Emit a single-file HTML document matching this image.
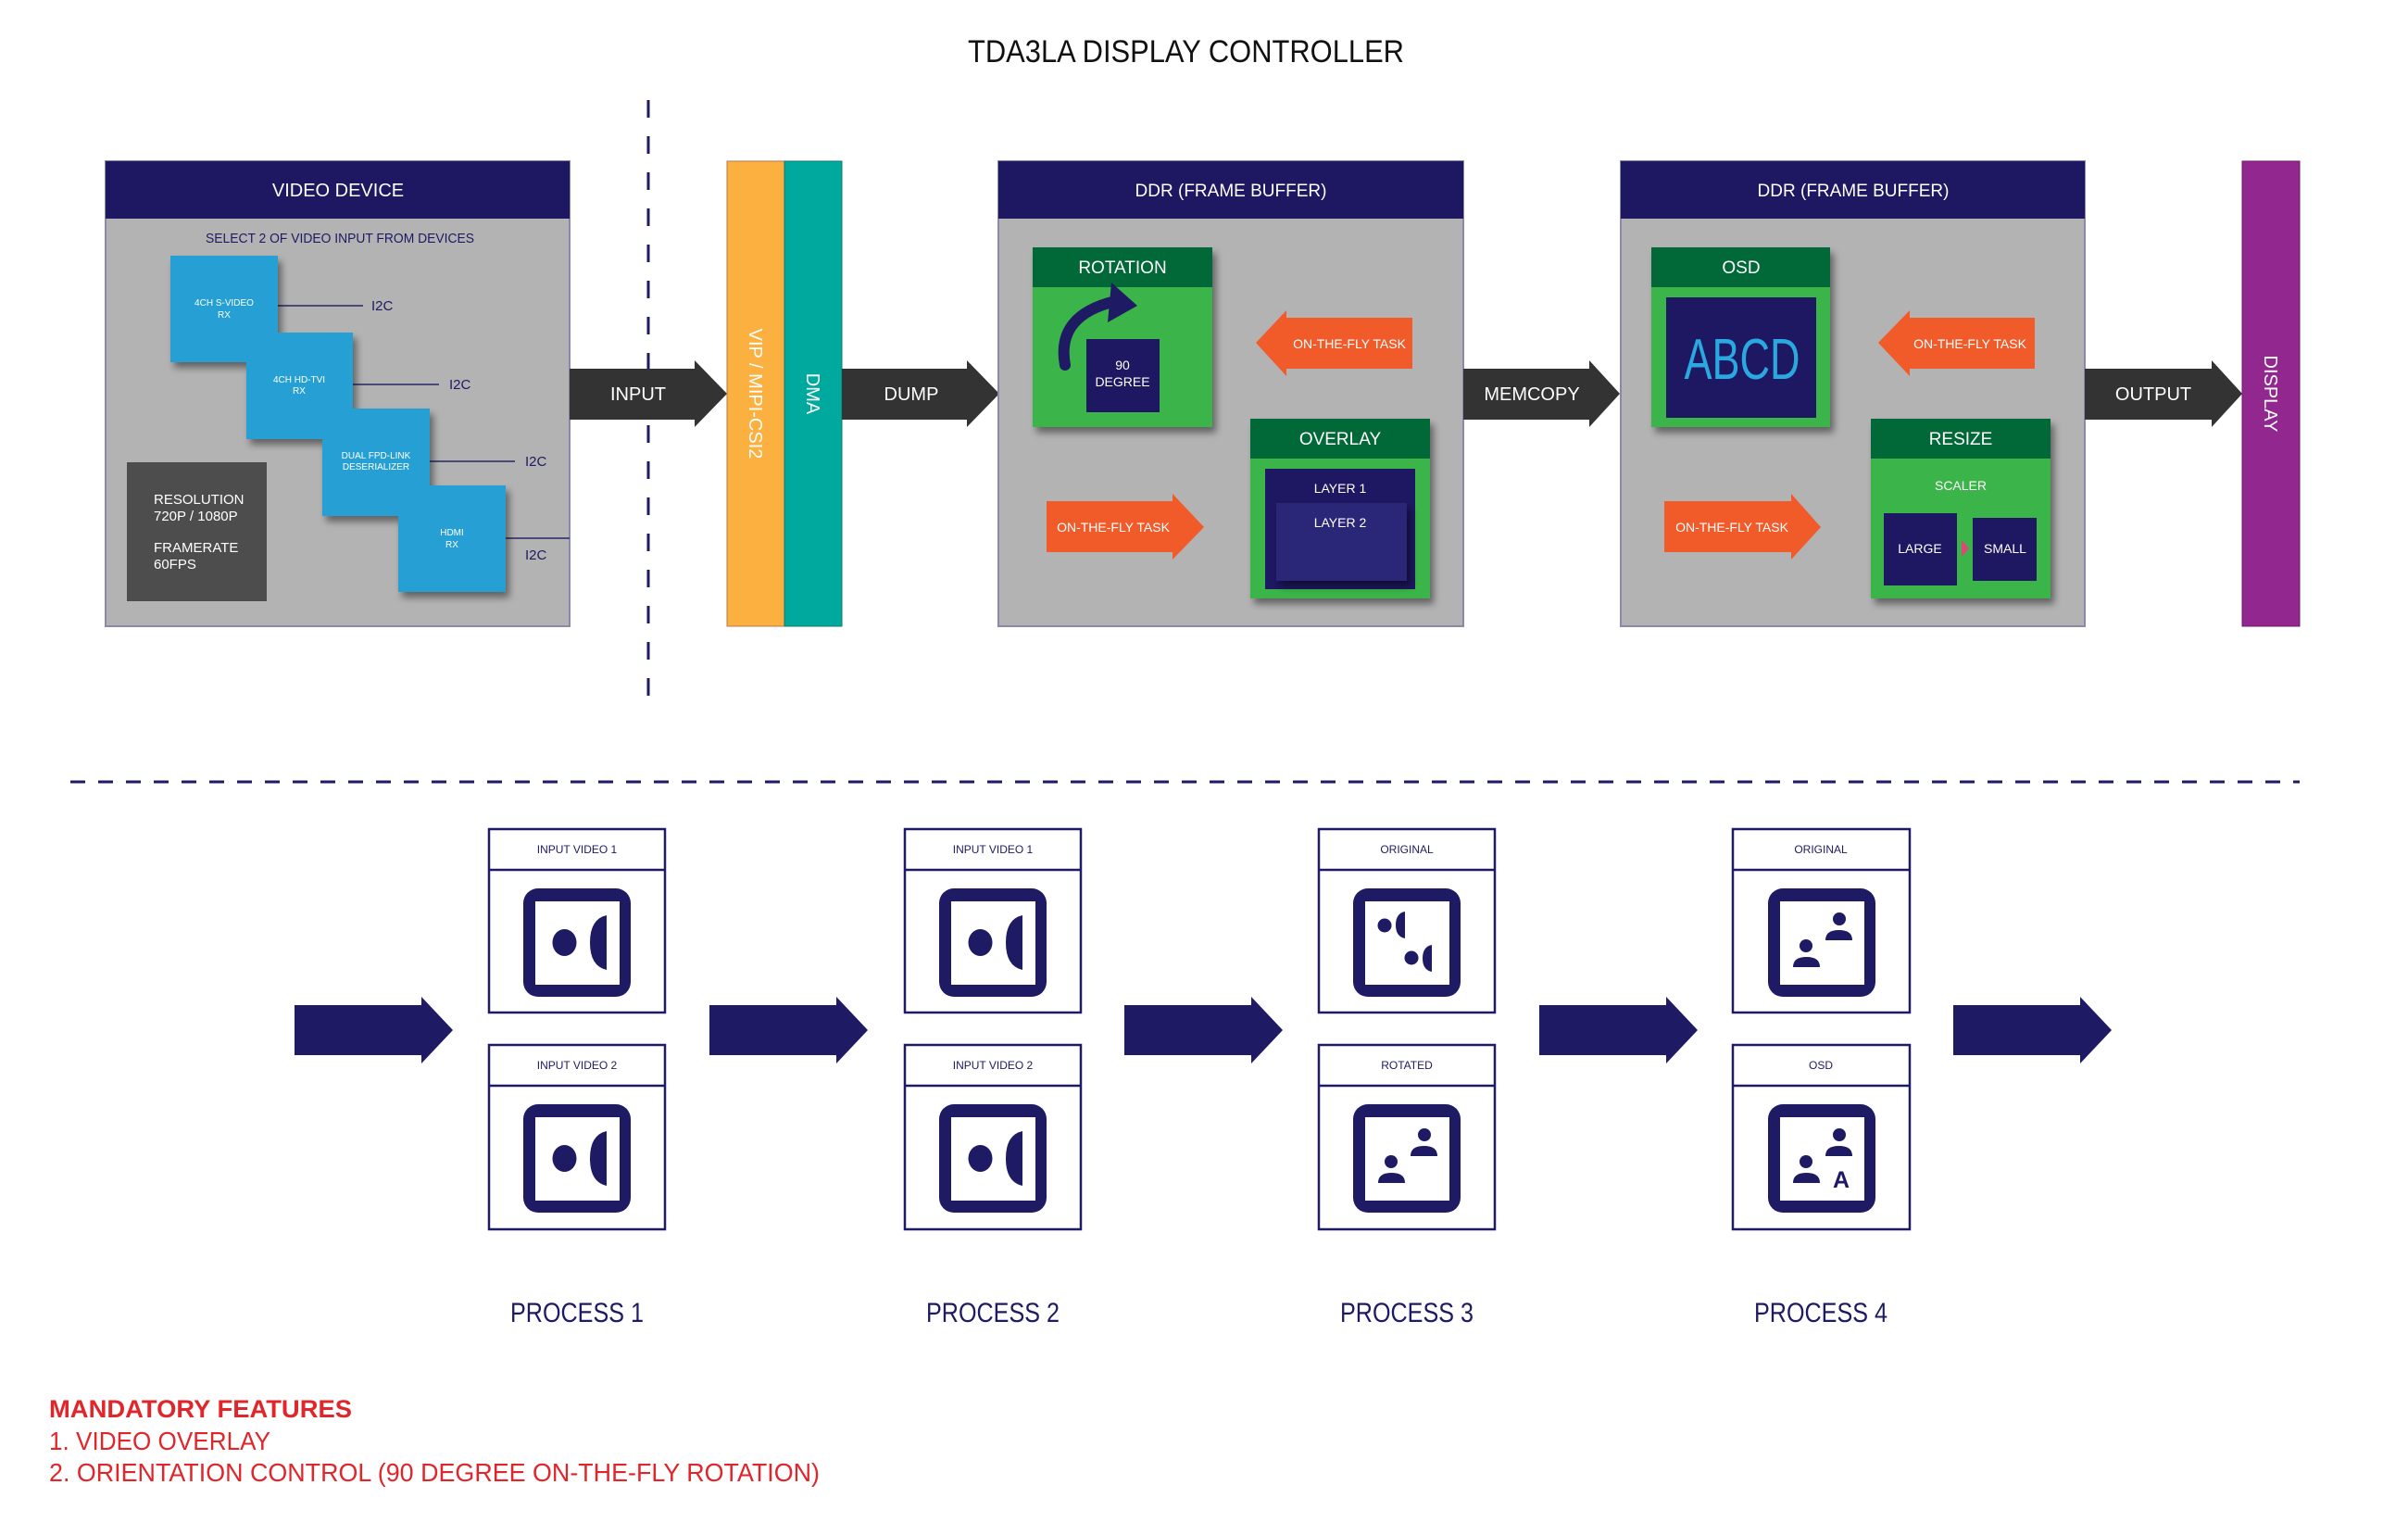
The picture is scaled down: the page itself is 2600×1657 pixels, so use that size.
<!DOCTYPE html>
<html><head><meta charset="utf-8"><style>
html,body{margin:0;padding:0;background:#fff;}
svg{display:block;font-family:"Liberation Sans",sans-serif;}
</style></head><body>
<svg width="2600" height="1657" viewBox="0 0 2600 1657" xmlns="http://www.w3.org/2000/svg">
<defs>
<filter id="sh" x="-20%" y="-20%" width="150%" height="150%"><feDropShadow dx="4" dy="6" stdDeviation="4" flood-color="#000" flood-opacity="0.45"/></filter>
<g id="frame">
 <rect x="0" y="0" width="116" height="117" rx="16" fill="#1e1a63"/>
 <rect x="13" y="14" width="91" height="90" fill="#fff"/>
</g>
<g id="icA">
 <use href="#frame"/>
 <ellipse cx="44.5" cy="58.5" rx="13" ry="14.5" fill="#1e1a63"/>
 <path d="M90 29 L90 88 Q72 84 72 58.5 Q72 33 90 29 Z" fill="#1e1a63"/>
</g>
<g id="icB">
 <use href="#frame"/>
 <ellipse cx="34" cy="40" rx="7.5" ry="7.5" fill="#1e1a63"/>
 <path d="M56 25 L56 54 Q46 52 46 39.5 Q46 27 56 25 Z" fill="#1e1a63"/>
 <ellipse cx="63" cy="75" rx="7.5" ry="7.5" fill="#1e1a63"/>
 <path d="M85 61 L85 90 Q75 88 75 75.5 Q75 63 85 61 Z" fill="#1e1a63"/>
</g>
<g id="persons">
 <circle cx="77" cy="33" r="7" fill="#1e1a63"/>
 <path d="M62 56 Q62 45 76.5 45 Q91 45 91 56 Z" fill="#1e1a63"/>
 <circle cx="41" cy="62" r="7" fill="#1e1a63"/>
 <path d="M27 85 Q27 74 41.5 74 Q56 74 56 85 Z" fill="#1e1a63"/>
</g>
<g id="icC"><use href="#frame"/><use href="#persons"/></g>
<g id="bigArrow"><polygon points="0,9 137,9 137,0 171,36 137,72 137,63 0,63" fill="#1e1a63"/></g>
</defs>

<text x="1045" y="67" font-size="34" fill="#111" textLength="471" lengthAdjust="spacingAndGlyphs">TDA3LA DISPLAY CONTROLLER</text>

<line x1="700" y1="108" x2="700" y2="762" stroke="#1e1a63" stroke-width="3" stroke-dasharray="19,20"/>
<line x1="76" y1="844" x2="2483" y2="844" stroke="#1e1a63" stroke-width="3" stroke-dasharray="16,14"/>

<!-- VIDEO DEVICE -->
<rect x="114" y="174" width="501" height="502" fill="#b3b3b3" stroke="#8a8aa8" stroke-width="2"/>
<rect x="114" y="174" width="501" height="62" fill="#1e1762"/>
<text x="365" y="212" font-size="20" fill="#fff" text-anchor="middle">VIDEO DEVICE</text>
<text x="367" y="262" font-size="15" fill="#1e1a63" text-anchor="middle" textLength="290" lengthAdjust="spacingAndGlyphs">SELECT 2 OF VIDEO INPUT FROM DEVICES</text>
<g stroke="#4a4a7a" stroke-width="2">
<line x1="300" y1="330" x2="392" y2="330"/><line x1="381" y1="415" x2="474" y2="415"/>
<line x1="464" y1="498" x2="556" y2="498"/><line x1="546" y1="581" x2="615" y2="581"/>
</g>
<g font-size="15" fill="#1e1a63">
<text x="401" y="335">I2C</text><text x="485" y="420">I2C</text><text x="567" y="503">I2C</text><text x="567" y="604">I2C</text>
</g>
<g filter="url(#sh)" fill="#27a0d4">
<rect x="184" y="276" width="116" height="115"/>
<rect x="266" y="359" width="115" height="115"/>
<rect x="348" y="441" width="116" height="116"/>
<rect x="430" y="524" width="116" height="115"/>
</g>
<g font-size="10" fill="#fff" text-anchor="middle">
<text x="242" y="330">4CH S-VIDEO</text><text x="242" y="343">RX</text>
<text x="323" y="413">4CH HD-TVI</text><text x="323" y="425">RX</text>
<text x="406" y="495">DUAL FPD-LINK</text><text x="406" y="507">DESERIALIZER</text>
<text x="488" y="578">HDMI</text><text x="488" y="591">RX</text>
</g>
<rect x="137" y="499" width="151" height="150" fill="#4d4d4d"/>
<g font-size="15" fill="#fff">
<text x="166" y="544">RESOLUTION</text><text x="166" y="562">720P / 1080P</text>
<text x="166" y="596">FRAMERATE</text><text x="166" y="614">60FPS</text>
</g>

<polygon points="615,398 750,398 750,389 785,425 750,461 750,453 615,453" fill="#333"/>
<text x="689" y="432" font-size="20" fill="#fff" text-anchor="middle">INPUT</text>

<rect x="785" y="174" width="62" height="502" fill="#fbb040" stroke="#b07a50" stroke-width="1"/>
<rect x="847" y="174" width="62" height="502" fill="#00a99d" stroke="#0b7a70" stroke-width="1"/>
<text transform="translate(809,425) rotate(90)" font-size="20" fill="#fff" text-anchor="middle">VIP / MIPI-CSI2</text>
<text transform="translate(871,425) rotate(90)" font-size="20" fill="#fff" text-anchor="middle">DMA</text>

<polygon points="909,398 1044,398 1044,389 1079,425 1044,461 1044,453 909,453" fill="#333"/>
<text x="984" y="432" font-size="20" fill="#fff" text-anchor="middle">DUMP</text>

<!-- DDR 1 -->
<rect x="1078" y="174" width="502" height="502" fill="#b3b3b3" stroke="#8a8aa8" stroke-width="2"/>
<rect x="1078" y="174" width="502" height="62" fill="#1e1762"/>
<text x="1329" y="212" font-size="19" fill="#fff" text-anchor="middle">DDR (FRAME BUFFER)</text>
<g filter="url(#sh)">
<rect x="1115" y="267" width="194" height="194" fill="#3bb44a"/>
<rect x="1350" y="452" width="194" height="194" fill="#3bb44a"/>
</g>
<rect x="1115" y="267" width="194" height="43" fill="#006937"/>
<text x="1212" y="295" font-size="19" fill="#fff" text-anchor="middle">ROTATION</text>
<path d="M1150 394 Q1140 340 1205 325" fill="none" stroke="#1e1a63" stroke-width="12" stroke-linecap="round"/>
<polygon points="1200,305 1228,330 1196,348" fill="#1e1a63"/>
<rect x="1173" y="366" width="79" height="79" fill="#1e1762"/>
<text x="1212" y="399" font-size="14" fill="#fff" text-anchor="middle">90</text>
<text x="1212" y="417" font-size="14" fill="#fff" text-anchor="middle">DEGREE</text>
<polygon points="1525,343 1389,343 1389,335 1356,370 1389,406 1389,398 1525,398" fill="#f15a29"/>
<text x="1457" y="376" font-size="14" fill="#fff" text-anchor="middle">ON-THE-FLY TASK</text>
<rect x="1350" y="452" width="194" height="43" fill="#006937"/>
<text x="1447" y="480" font-size="19" fill="#fff" text-anchor="middle">OVERLAY</text>
<rect x="1366" y="506" width="162" height="130" fill="#1e1762"/>
<rect x="1378" y="543" width="141" height="84" fill="#2a2878" filter="url(#sh)"/>
<text x="1447" y="532" font-size="14" fill="#fff" text-anchor="middle">LAYER 1</text>
<text x="1447" y="569" font-size="14" fill="#fff" text-anchor="middle">LAYER 2</text>
<polygon points="1130,541 1266,541 1266,533 1300,569 1266,604 1266,596 1130,596" fill="#f15a29"/>
<text x="1202" y="574" font-size="14" fill="#fff" text-anchor="middle">ON-THE-FLY TASK</text>

<polygon points="1580,398 1716,398 1716,389 1749,425 1716,461 1716,453 1580,453" fill="#333"/>
<text x="1654" y="432" font-size="20" fill="#fff" text-anchor="middle">MEMCOPY</text>

<!-- DDR 2 -->
<rect x="1750" y="174" width="501" height="502" fill="#b3b3b3" stroke="#8a8aa8" stroke-width="2"/>
<rect x="1750" y="174" width="501" height="62" fill="#1e1762"/>
<text x="2001" y="212" font-size="19" fill="#fff" text-anchor="middle">DDR (FRAME BUFFER)</text>
<g filter="url(#sh)">
<rect x="1783" y="267" width="193" height="194" fill="#3bb44a"/>
<rect x="2020" y="452" width="194" height="194" fill="#3bb44a"/>
</g>
<rect x="1783" y="267" width="193" height="43" fill="#006937"/>
<text x="1880" y="295" font-size="19" fill="#fff" text-anchor="middle">OSD</text>
<rect x="1799" y="321" width="162" height="130" fill="#1e1762"/>
<text x="1881" y="409" font-size="62" fill="#29a9e0" text-anchor="middle" textLength="125" lengthAdjust="spacingAndGlyphs">ABCD</text>
<polygon points="2197,343 2062,343 2062,335 2028,370 2062,406 2062,398 2197,398" fill="#f15a29"/>
<text x="2127" y="376" font-size="14" fill="#fff" text-anchor="middle">ON-THE-FLY TASK</text>
<rect x="2020" y="452" width="194" height="43" fill="#006937"/>
<text x="2117" y="480" font-size="19" fill="#fff" text-anchor="middle">RESIZE</text>
<text x="2117" y="529" font-size="14" fill="#fff" text-anchor="middle">SCALER</text>
<rect x="2034" y="554" width="79" height="78" fill="#1e1762"/>
<rect x="2130" y="559" width="69" height="68" fill="#1e1762"/>
<polygon points="2118,583 2126,592 2118,601" fill="#e0457b"/>
<text x="2073" y="597" font-size="14" fill="#fff" text-anchor="middle">LARGE</text>
<text x="2165" y="597" font-size="14" fill="#fff" text-anchor="middle">SMALL</text>
<polygon points="1797,541 1934,541 1934,533 1966,569 1934,604 1934,596 1797,596" fill="#f15a29"/>
<text x="1870" y="574" font-size="14" fill="#fff" text-anchor="middle">ON-THE-FLY TASK</text>

<polygon points="2251,398 2388,398 2388,389 2421,425 2388,461 2388,453 2251,453" fill="#333"/>
<text x="2325" y="432" font-size="20" fill="#fff" text-anchor="middle">OUTPUT</text>
<rect x="2421" y="174" width="62" height="502" fill="#92278f" stroke="#6a1a68" stroke-width="1"/>
<text transform="translate(2445,425) rotate(90)" font-size="20" fill="#fff" text-anchor="middle">DISPLAY</text>

<!-- PROCESS section -->
<g fill="none" stroke="#1e1a63" stroke-width="2.5">
<rect x="528" y="895" width="190" height="198"/><line x1="528" y1="939" x2="718" y2="939"/>
<rect x="528" y="1128" width="190" height="199"/><line x1="528" y1="1172" x2="718" y2="1172"/>
<rect x="977" y="895" width="190" height="198"/><line x1="977" y1="939" x2="1167" y2="939"/>
<rect x="977" y="1128" width="190" height="199"/><line x1="977" y1="1172" x2="1167" y2="1172"/>
<rect x="1424" y="895" width="190" height="198"/><line x1="1424" y1="939" x2="1614" y2="939"/>
<rect x="1424" y="1128" width="190" height="199"/><line x1="1424" y1="1172" x2="1614" y2="1172"/>
<rect x="1871" y="895" width="191" height="198"/><line x1="1871" y1="939" x2="2062" y2="939"/>
<rect x="1871" y="1128" width="191" height="199"/><line x1="1871" y1="1172" x2="2062" y2="1172"/>
</g>
<g font-size="12" fill="#1e1a63" text-anchor="middle">
<text x="623" y="921">INPUT VIDEO 1</text><text x="623" y="1154">INPUT VIDEO 2</text>
<text x="1072" y="921">INPUT VIDEO 1</text><text x="1072" y="1154">INPUT VIDEO 2</text>
<text x="1519" y="921">ORIGINAL</text><text x="1519" y="1154">ROTATED</text>
<text x="1966" y="921">ORIGINAL</text><text x="1966" y="1154">OSD</text>
</g>
<use href="#icA" x="565" y="959"/><use href="#icA" x="565" y="1192"/>
<use href="#icA" x="1014" y="959"/><use href="#icA" x="1014" y="1192"/>
<use href="#icB" x="1461" y="959"/><use href="#icC" x="1461" y="1192"/>
<use href="#icC" x="1909" y="959"/>
<g transform="translate(1909,1192)"><use href="#frame"/>
 <use href="#persons"/>
 <text x="79" y="90" font-size="25" font-weight="bold" fill="#1e1a63" text-anchor="middle">A</text>
</g>
<use href="#bigArrow" x="318" y="1076"/>
<use href="#bigArrow" x="766" y="1076"/>
<use href="#bigArrow" x="1214" y="1076"/>
<use href="#bigArrow" x="1662" y="1076"/>
<use href="#bigArrow" x="2109" y="1076"/>
<g font-size="30" fill="#1e1a63" text-anchor="middle">
<text x="623" y="1427" textLength="144" lengthAdjust="spacingAndGlyphs">PROCESS 1</text>
<text x="1072" y="1427" textLength="144" lengthAdjust="spacingAndGlyphs">PROCESS 2</text>
<text x="1519" y="1427" textLength="144" lengthAdjust="spacingAndGlyphs">PROCESS 3</text>
<text x="1966" y="1427" textLength="144" lengthAdjust="spacingAndGlyphs">PROCESS 4</text>
</g>

<g font-size="28" fill="#e0262b">
<text x="53" y="1530" font-weight="bold" font-size="27" textLength="327" lengthAdjust="spacingAndGlyphs">MANDATORY FEATURES</text>
<text x="53" y="1565" textLength="239" lengthAdjust="spacingAndGlyphs">1. VIDEO OVERLAY</text>
<text x="53" y="1599" textLength="832" lengthAdjust="spacingAndGlyphs">2. ORIENTATION CONTROL (90 DEGREE ON-THE-FLY ROTATION)</text>
</g>
</svg>
</body></html>
